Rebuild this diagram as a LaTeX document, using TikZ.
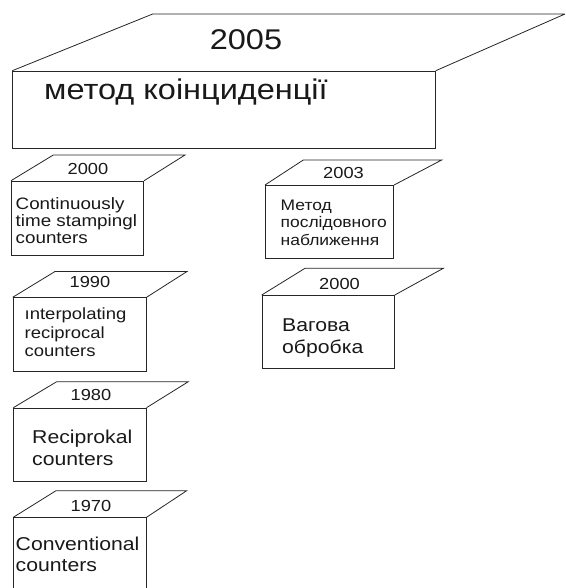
\documentclass[tikz,border=0pt]{standalone}
\usepackage{fontspec}
\setmainfont{Liberation Sans}[FakeStretch=1.14]
\begin{document}
\begin{tikzpicture}[x=1pt,y=-1pt,
  edge/.style={draw=black!85,line width=0.8pt},
  front/.style={edge,inner sep=0pt,anchor=north west},
  yr/.style={font=\fontsize{16}{16}\selectfont,anchor=base,inner sep=0pt,text=black!90},
  lbl/.style={align=left,anchor=base west,inner sep=0pt,text=black!90},
  smalltext/.style={lbl,font=\fontsize{16.5}{17}\selectfont},
  midtext/.style={lbl,font=\fontsize{18.6}{21.7}\selectfont},
  bigtext/.style={font=\fontsize{28.5}{30}\selectfont}
]
\clip (0,0) rectangle (565,588);
\fill[white] (0,0) rectangle (565,588);

% 2005 big box
\node[front,minimum width=422.7pt,minimum height=77.6pt] (b0) at (12.3,70.7) {};
\coordinate (b0bl) at (152.7,14);
\coordinate (b0br) at (565,14);
\draw[edge] (b0.north west) -- (b0bl) -- (b0br) -- (b0.north east);
\node[yr,bigtext] (y0) at (246,50) {2005};
\node[lbl,bigtext] (t0) at (44,100) {метод коінциденції};

% 2000 left
\node[front,minimum width=132.3pt,minimum height=74.3pt] (b1) at (11,180.7) {};
\coordinate (b1bl) at (53.3,155);
\coordinate (b1br) at (185,155);
\draw[edge] (b1.north west) -- (b1bl) -- (b1br) -- (b1.north east);
\node[yr] (y1) at (88,175) {2000};
\node[smalltext] (t1) at (15.5,243.3) {Continuously\\time stampingl\\counters};

% 1990
\node[front,minimum width=133pt,minimum height=73.4pt] (b2) at (12.7,297.3) {};
\coordinate (b2bl) at (55,271.5);
\coordinate (b2br) at (187,271.5);
\draw[edge] (b2.north west) -- (b2bl) -- (b2br) -- (b2.north east);
\node[yr] (y2) at (90,287.7) {1990};
\node[lbl,font=\fontsize{16.2}{18.5}\selectfont] (t2) at (24.5,356.5) {ınterpolating\\reciprocal\\counters};

% 1980
\node[front,minimum width=132.4pt,minimum height=73.3pt] (b3) at (13.3,407.7) {};
\coordinate (b3bl) at (56.7,381.7);
\coordinate (b3br) at (188.3,381.7);
\draw[edge] (b3.north west) -- (b3bl) -- (b3br) -- (b3.north east);
\node[yr] (y3) at (91,400.7) {1980};
\node[midtext] (t3) at (32,465) {Reciprokal\\counters};

% 1970
\node[front,minimum width=132.4pt,minimum height=90pt] (b4) at (13.3,517.3) {};
\coordinate (b4bl) at (56,490.7);
\coordinate (b4br) at (186.7,490.7);
\draw[edge] (b4.north west) -- (b4bl) -- (b4br) -- (b4.north east);
\node[yr] (y4) at (91,511.7) {1970};
\node[midtext] (t4) at (15.5,571.7) {Conventional\\counters};

% 2003
\node[front,minimum width=128.3pt,minimum height=73.3pt] (b5) at (265,185) {};
\coordinate (b5bl) at (303.3,160);
\coordinate (b5br) at (441.7,160);
\draw[edge] (b5.north west) -- (b5bl) -- (b5br) -- (b5.north east);
\node[yr] (y5) at (343.5,178.8) {2003};
\node[lbl,font=\fontsize{15.3}{17.8}\selectfont] (t5) at (280.5,245.6) {Метод\\послідовного\\наближення};

% 2000 right
\node[front,minimum width=132.3pt,minimum height=73.3pt] (b6) at (261.7,295) {};
\coordinate (b6bl) at (305,268.3);
\coordinate (b6br) at (443.3,268.3);
\draw[edge] (b6.north west) -- (b6bl) -- (b6br) -- (b6.north east);
\node[yr] (y6) at (339.5,289) {2000};
\node[midtext] (t6) at (282,353.4) {Вагова\\обробка};
\end{tikzpicture}
\end{document}
